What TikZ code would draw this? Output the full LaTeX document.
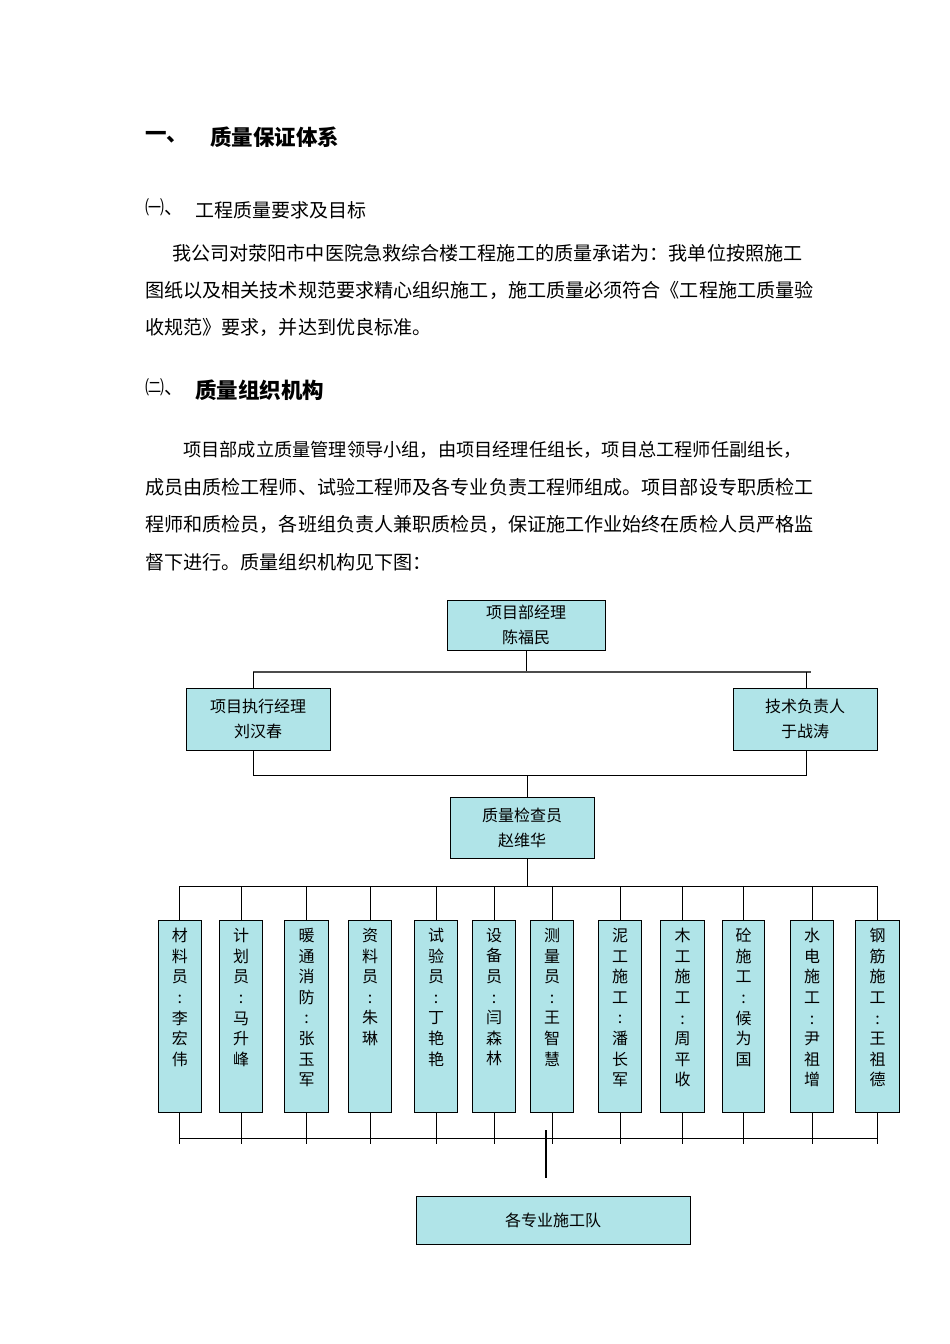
\documentclass[tikz,border=0pt]{standalone}
\usepackage{fontspec}
\setmainfont{Noto Sans CJK SC}
\definecolor{boxfill}{RGB}{176,228,232}
\tikzset{
  bx/.style={draw=black,line width=1pt,fill=boxfill,inner sep=0pt},
  ln/.style={line width=0.9pt},
  txt/.style={anchor=west,inner sep=0pt,font=\fontsize{19.1}{20}\selectfont},
  hd/.style={anchor=west,inner sep=0pt,font=\fontsize{21.5}{24}\selectfont\bfseries},
  lbl/.style={font=\fontsize{16}{25}\selectfont,align=center,inner sep=0pt},
  vl/.style={font=\fontsize{16}{20.6}\selectfont,align=center,inner sep=0pt,anchor=north}
}
\begin{document}
\begin{tikzpicture}[x=1pt,y=-1pt]
\useasboundingbox (0,0) rectangle (950,1344);
% headings
\node[hd] (h1a) at (145,137) {一、};
\node[hd] (h1b) at (210,137) {质量保证体系};
\node[anchor=west,inner sep=0pt,font=\fontsize{19}{22}\selectfont] (h2a) at (145,207) {㈠、};
\node[anchor=west,inner sep=0pt,font=\fontsize{19}{22}\selectfont] (h2b) at (195,210) {工程质量要求及目标};
\node[txt] (p1) at (172,253) {我公司对荥阳市中医院急救综合楼工程施工的质量承诺为：我单位按照施工};
\node[txt] (p2) at (145,290) {图纸以及相关技术规范要求精心组织施工，施工质量必须符合《工程施工质量验};
\node[txt] (p3) at (145,327) {收规范》要求，并达到优良标准。};
\node[anchor=west,inner sep=0pt,font=\fontsize{19}{22}\selectfont] (h3a) at (145,387) {㈡、};
\node[hd] (h3b) at (195,390) {质量组织机构};
\node[txt,font=\fontsize{18.2}{20}\selectfont] (q1) at (183,450) {项目部成立质量管理领导小组，由项目经理任组长，项目总工程师任副组长，};
\node[txt] (q2) at (145,487) {成员由质检工程师、试验工程师及各专业负责工程师组成。项目部设专职质检工};
\node[txt] (q3) at (145,524) {程师和质检员，各班组负责人兼职质检员，保证施工作业始终在质检人员严格监};
\node[txt] (q4) at (145,562) {督下进行。质量组织机构见下图：};
% chart boxes
\node[bx,minimum width=158pt,minimum height=50pt] (top) at (526,625) {};
\node[lbl] (topt) at (top) {项目部经理\\陈福民};
\node[bx,minimum width=144pt,minimum height=62pt] (lft) at (258,719) {};
\node[lbl] (lftt) at (lft) {项目执行经理\\刘汉春};
\node[bx,minimum width=144pt,minimum height=62pt] (rgt) at (805,719) {};
\node[lbl] (rgtt) at (rgt) {技术负责人\\于战涛};
\node[bx,minimum width=144pt,minimum height=61pt] (qc) at (522,828) {};
\node[lbl] (qct) at (qc) {质量检查员\\赵维华};
\node[bx,minimum width=274pt,minimum height=48pt] (team) at (553,1220) {};
\node[lbl] (teamt) at (team) {各专业施工队};
% connectors top
\coordinate (b1l) at (253,672); \coordinate (b1r) at (811,672);
\draw[ln] (top.south) -- (top.south |- b1l);
\draw[line width=2pt,black!70] (b1l) -- (b1r);
\draw[ln] (253,672) -- (253,688);
\draw[ln] (806,672) -- (806,688);
\coordinate (b2l) at (253,775); \coordinate (b2r) at (806,775);
\draw[ln] (253,750) -- (b2l) -- (b2r) -- (806,750);
\draw[ln] (527,775) -- (527,797);
\coordinate (b3l) at (180,886); \coordinate (b3r) at (878,886);
\draw[ln] (527,858) -- (527,886);
\draw[ln] (b3l) -- (b3r);
\coordinate (b4l) at (180,1138); \coordinate (b4r) at (878,1138);
\draw[ln] (b4l) -- (b4r);
\draw[line width=2pt] (546,1130) -- (546,1178);
% staff boxes
\foreach \i/\xa/\xb/\lab in {
 1/157.5/201/{材\\料\\员\\:\\李\\宏\\伟},
 2/219/262/{计\\划\\员\\:\\马\\升\\峰},
 3/284/328/{暖\\通\\消\\防\\:\\张\\玉\\军},
 4/348/391/{资\\料\\员\\:\\朱\\琳},
 5/414/457/{试\\验\\员\\:\\丁\\艳\\艳},
 6/472/515/{设\\备\\员\\:\\闫\\森\\林},
 7/530/573/{测\\量\\员\\:\\王\\智\\慧},
 8/598/641/{泥\\工\\施\\工\\:\\潘\\长\\军},
 9/660/704/{木\\工\\施\\工\\:\\周\\平\\收},
 10/722/764/{砼\\施\\工\\:\\候\\为\\国},
 11/790/833/{水\\电\\施\\工\\:\\尹\\祖\\增},
 12/855/899/{钢\\筋\\施\\工\\:\\王\\祖\\德}}{
  \node[bx,minimum width={\xb-\xa},minimum height=192pt,anchor=north west] (s\i) at (\xa,920) {};
  \node[vl] (st\i) at ([yshift=-8pt]s\i.north) {\lab};
  \draw[ln] (s\i.north) -- (s\i.north |- b3l);
  \draw[ln] (s\i.south) -- ([yshift=-6pt]s\i.south |- b4l);
}
\end{tikzpicture}
\end{document}
